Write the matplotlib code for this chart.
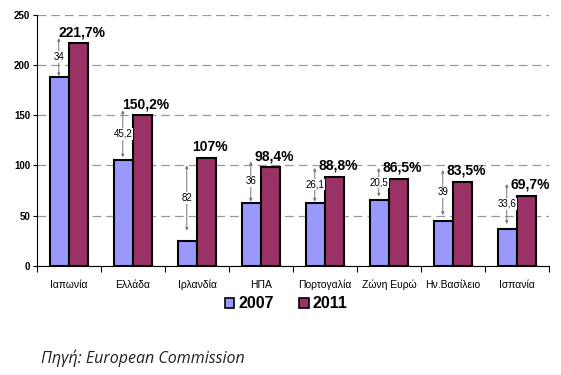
import numpy as np
import matplotlib.pyplot as plt
from matplotlib.patches import Patch

countries = ['Ιαπωνία', 'Ελλάδα', 'Ιρλανδία', 'ΗΠΑ', 'Πορτογαλία',
             'Ζώνη Ευρώ', 'Ην.Βασίλειο', 'Ισπανία']
debt_2007 = [187.7, 105.0, 25.0, 62.4, 62.7, 66.0, 44.5, 36.1]
debt_2011 = [221.7, 150.2, 107.0, 98.4, 88.8, 86.5, 83.5, 69.7]
pct_labels = ['221,7%', '150,2%', '107%', '98,4%', '88,8%', '86,5%', '83,5%', '69,7%']
diff_labels = ['34', '45,2', '82', '36', '26,1', '20,5', '39', '33,6']
# arrow ends as drawn (hand placed in the original)
arrow_lo = [189, 108, 35, 64, 64, 69, 50.5, 41.6]
arrow_hi = [227, 155, 100, 104, 97.5, 97.5, 95.5, 81.5]

plt.rcParams['font.family'] = ['Liberation Sans', 'DejaVu Sans']

fig = plt.figure(figsize=(5.61, 3.75), dpi=100)
ax = fig.add_axes([0.066, 0.2915, 0.9126, 0.6685])

x = np.arange(len(countries))
w = 0.29
ax.bar(x - w / 2, debt_2007, w, color='#9999FF', edgecolor='black', linewidth=1.5, zorder=3)
ax.bar(x + w / 2, debt_2011, w, color='#993366', edgecolor='black', linewidth=1.5, zorder=3)

for i in range(len(countries)):
    ax.text(x[i] + w / 2 + 0.06, debt_2011[i] + 4, pct_labels[i], ha='center', va='bottom',
            fontsize=10, fontweight='bold', zorder=5)
    ax_x = x[i] - 0.16
    ax.annotate('', xy=(ax_x, arrow_hi[i]), xytext=(ax_x, arrow_lo[i]),
                arrowprops=dict(arrowstyle='<|-|>', color='#777777', lw=0.7,
                                mutation_scale=4, shrinkA=0, shrinkB=0), zorder=4)
    ax.text(ax_x, (arrow_lo[i] + arrow_hi[i]) / 2, diff_labels[i], ha='center', va='center',
            fontsize=7, zorder=5,
            bbox=dict(facecolor='white', edgecolor='none', pad=0.5))

ax.set_xlim(-0.5, len(countries) - 0.5)
ax.set_ylim(0, 250)
ax.set_yticks([0, 50, 100, 150, 200, 250])
ax.yaxis.grid(True, linestyle=(0, (7, 4)), color='#999999', linewidth=0.9, zorder=0)
ax.set_axisbelow(True)

ax.set_xticks(np.arange(-0.5, len(countries), 1.0))
ax.set_xticklabels([])
ax.set_xticks(x, minor=True)
ax.set_xticklabels(countries, minor=True, fontsize=7.5)
ax.tick_params(axis='x', which='minor', length=0, pad=10)
ax.tick_params(axis='x', which='major', length=4, direction='out', width=0.8)
ax.tick_params(axis='y', length=3, direction='out', width=0.8, labelsize=7, pad=2)
for lbl in ax.get_yticklabels():
    lbl.set_fontweight('bold')

for s in ['top', 'right']:
    ax.spines[s].set_visible(False)
ax.spines['left'].set_linewidth(0.8)
ax.spines['bottom'].set_linewidth(0.8)

handles = [Patch(facecolor='#9999FF', edgecolor='black', linewidth=1.2, label='2007'),
           Patch(facecolor='#993366', edgecolor='black', linewidth=1.2, label='2011')]
fig.legend(handles=handles, loc='center', bbox_to_anchor=(0.51, 0.19), ncol=2,
           frameon=False, handlelength=0.6, handleheight=0.6, handletextpad=0.25,
           columnspacing=1.6, prop={'weight': 'bold', 'size': 11.5})

fig.text(0.073, 0.032, 'Πηγή: European Commission', fontsize=11.5, style='italic',
         family=['Open Sans', 'DejaVu Sans'], color='#222222')

fig.savefig('out.png', dpi=100)
